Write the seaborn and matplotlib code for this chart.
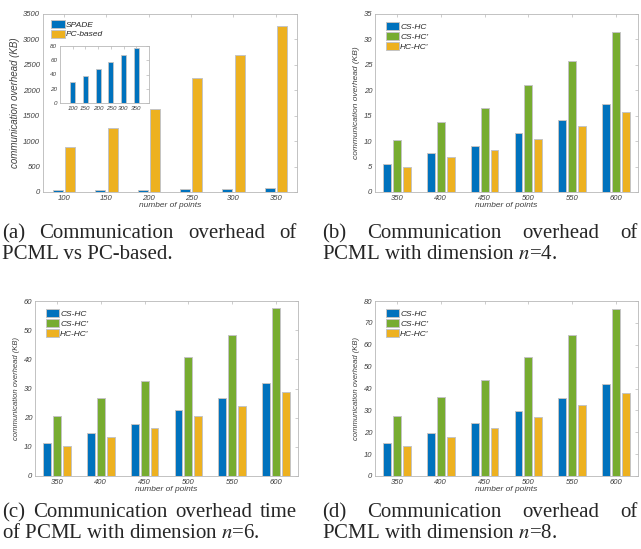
import pandas as pd
import matplotlib
matplotlib.use('Agg')
import matplotlib.pyplot as plt
import seaborn as sns

# values
points_a = ['100', '150', '200', '250', '300', '350']
spade = [30, 38, 48, 58, 68, 77]
pc_based = [890, 1265, 1630, 2240, 2700, 3270]

points_n = ['350', '400', '450', '500', '550', '600']
methods = ['CS-HC', "CS-HC'", "HC-HC'"]

cs_hc_n4 = [5.6, 7.6, 9.1, 11.6, 14.2, 17.3]
cs_hcp_n4 = [10.2, 13.8, 16.5, 21.0, 25.8, 31.4]
hc_hcp_n4 = [5.0, 6.8, 8.2, 10.5, 12.9, 15.7]

cs_hc_n6 = [11.3, 14.9, 17.9, 22.5, 26.6, 31.8]
cs_hcp_n6 = [20.7, 26.9, 32.6, 40.8, 48.3, 57.6]
hc_hcp_n6 = [10.3, 13.4, 16.3, 20.5, 24.1, 28.8]

cs_hc_n8 = [15.1, 19.8, 24.3, 29.8, 35.5, 42.0]
cs_hcp_n8 = [27.4, 36.0, 44.1, 54.2, 64.5, 76.3]
hc_hcp_n8 = [13.8, 17.9, 22.0, 26.9, 32.3, 38.1]

# MATLAB-like colours
BLUE, GREEN, YELLOW = '#0072BD', '#77AC30', '#EDB120'
GREY = '#b8b8b8'
EDGE = '#c4c4c4'
TXT = '#404040'
SERIF = ['Liberation Serif', 'DejaVu Serif']
CAP_FS = 15

sns.set_style('white')
plt.rcParams['font.family'] = ['Liberation Sans', 'DejaVu Sans']
plt.rcParams['font.style'] = 'italic'
plt.rcParams['mathtext.fontset'] = 'stix'

W, H = 641, 549
fig = plt.figure(figsize=(W / 100, H / 100), dpi=100)


def px_axes(left, top, right, bottom):
    return fig.add_axes([left / W, 1 - bottom / H, (right - left) / W, (bottom - top) / H])


def style_axes(ax, yticks, fs=5.5, xlim=(-0.5, 5.5)):
    ax.set_ylim(yticks[0], yticks[-1])
    ax.set_yticks(yticks)
    ax.set_xlim(*xlim)
    ax.tick_params(direction='in', top=True, right=True, length=2.5, width=0.5,
                   color=GREY, labelsize=fs, labelcolor=TXT, pad=2)
    for s in ax.spines.values():
        s.set_visible(True)
        s.set_color(GREY)
        s.set_linewidth(0.6)


def long_table(points, names, series):
    rows = []
    for name, vals in zip(names, series):
        for p, v in zip(points, vals):
            rows.append({'points': p, 'method': name, 'value': v})
    return pd.DataFrame(rows)


def caption(x0, x1, y, words, line2):
    # first line is justified between x0 and x1, like the LaTeX subcaption
    r = fig.canvas.get_renderer()
    texts = [fig.text(0, 1 - y / H, w, family=SERIF, style='normal', fontsize=CAP_FS,
                      va='baseline', ha='left') for w in words]
    widths = [t.get_window_extent(r).width for t in texts]
    gap = (x1 - x0 - sum(widths)) / (len(words) - 1)
    x = x0
    for t, w in zip(texts, widths):
        t.set_x(x / W)
        x += w + gap
    fig.text(x0 / W, 1 - (y + 21) / H, line2, family=SERIF, style='normal', fontsize=CAP_FS,
             va='baseline', ha='left')


def group_panel(ax, series, yticks, ylab_fs=6):
    df = long_table(points_n, methods, series)
    sns.barplot(data=df, x='points', y='value', hue='method', palette=[BLUE, GREEN, YELLOW],
                width=0.68, gap=0.2, saturation=1, errorbar=None, edgecolor=EDGE,
                linewidth=0.7, ax=ax)
    style_axes(ax, yticks)
    ax.set_xlabel('number of points', fontsize=6, color=TXT, labelpad=0)
    ax.set_ylabel('communication overhead (KB)', fontsize=ylab_fs, color=TXT, labelpad=3)
    ax.legend(loc='upper left', frameon=False, fontsize=6, handlelength=1.6,
              handleheight=1.1, handletextpad=0.1, labelspacing=0.12,
              borderaxespad=0.6, bbox_to_anchor=(0.01, 1.0))


# (a) SPADE vs PC-based
ax_a = px_axes(43, 14, 297, 192)
df_a = long_table(points_a, ['SPADE', 'PC-based'], [spade, pc_based])
sns.barplot(data=df_a, x='points', y='value', hue='method', palette=[BLUE, YELLOW],
            width=0.57, gap=0.17, saturation=1, errorbar=None, edgecolor=EDGE,
            linewidth=0.7, ax=ax_a)
style_axes(ax_a, list(range(0, 3501, 500)))
ax_a.set_xlabel('number of points', fontsize=6, color=TXT, labelpad=0)
ax_a.set_ylabel('communication overhead (KB)', fontsize=7, color=TXT, labelpad=2)
ax_a.legend(loc='upper left', frameon=False, fontsize=6, handlelength=1.6,
            handleheight=1.1, handletextpad=0.1, labelspacing=0.12,
            borderaxespad=0.3, bbox_to_anchor=(0.01, 1.0))

# inset with the SPADE bars alone
ins = px_axes(60, 46, 149, 103)
ins.set_facecolor('white')
sns.barplot(x=points_a, y=spade, color=BLUE, width=0.4, saturation=1, errorbar=None,
            edgecolor=EDGE, linewidth=0.6, ax=ins)
style_axes(ins, [0, 20, 40, 60, 80], fs=4.5, xlim=(-1, 6))

# (b) n=4
ax_b = px_axes(375, 14, 638, 192)
group_panel(ax_b, [cs_hc_n4, cs_hcp_n4, hc_hcp_n4], list(range(0, 36, 5)))

# (c) n=6
ax_c = px_axes(35, 301, 298, 476)
group_panel(ax_c, [cs_hc_n6, cs_hcp_n6, hc_hcp_n6], list(range(0, 61, 10)), ylab_fs=5.5)

# (d) n=8
ax_d = px_axes(375, 301, 638, 476)
group_panel(ax_d, [cs_hc_n8, cs_hcp_n8, hc_hcp_n8], list(range(0, 81, 10)), ylab_fs=5.5)

# captions
caption(2, 297, 238, ['(a)', 'Communication', 'overhead', 'of'], 'PCML vs PC-based.')
caption(322, 638, 238, ['(b)', 'Communication', 'overhead', 'of'], 'PCML with dimension $n$=4.')
caption(2, 297, 517, ['(c)', 'Communication', 'overhead', 'time'], 'of PCML with dimension $n$=6.')
caption(322, 638, 517, ['(d)', 'Communication', 'overhead', 'of'], 'PCML with dimension $n$=8.')

fig.savefig('out.png', dpi=100)
